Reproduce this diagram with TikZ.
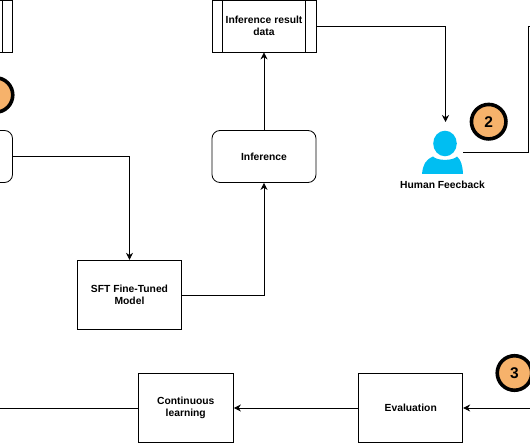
\documentclass[tikz,border=0pt]{standalone}
\usepackage{fontspec}
\setmainfont{Liberation Sans}
\usepackage{tikz}
\usetikzlibrary{arrows.meta,positioning}
\definecolor{badgeorange}{HTML}{F6B26B}
\definecolor{personblue}{HTML}{00BEF2}
\tikzset{
  box/.style      = {draw, line width=0.8pt, fill=white, align=center, font=\fontsize{10.3}{12.5}\selectfont\bfseries,
                     minimum width=104pt, minimum height=52pt, inner sep=0pt},
  roundbox/.style = {box, rounded corners=8pt},
  databox/.style  = {box, path picture={
                     \draw[line width=0.8pt] ([xshift=10.5pt]path picture bounding box.north west) -- ([xshift=10.5pt]path picture bounding box.south west);
                     \draw[line width=0.8pt] ([xshift=-10.5pt]path picture bounding box.north east) -- ([xshift=-10.5pt]path picture bounding box.south east);}},
  wire/.style     = {line width=0.8pt},
  vec/.style      = {wire, -{Stealth[length=7pt,width=7pt]}},
  badge/.style    = {circle, draw, line width=3.6pt, fill=badgeorange, minimum size=34.5pt, inner sep=0pt,
                     font=\fontsize{15.5}{15.5}\selectfont\bfseries},
  caption/.style  = {font=\fontsize{10.3}{12}\selectfont\bfseries},
}
\begin{document}
\begin{tikzpicture}[x=1pt,y=-1pt]
  \clip (0,0) rectangle (530,443);
  % top row
  \node[databox] (source) at (-39.5,26) {};
  \node[databox] (result) at (264,26) {Inference result\\data};
  % middle row
  \node[roundbox] (prepare) at (-39.5,156.5) {};
  \node[roundbox] (inference) at (264,156.5) {Inference};
  \node[box, minimum height=69.5pt] (sft) at (129.5,295) {SFT Fine-Tuned\\Model};
  % bottom row
  \node[box, minimum height=69.5pt] (evaluation) at (410.75,408) {Evaluation};
  \node[box, minimum width=95.5pt, minimum height=69.5pt] (continuous) at (185.75,408) {Continuous\\learning};
  % person
  \fill[personblue] (445,143.5) ellipse (11.8 and 12.8);
  \fill[personblue] (422,174) .. controls (423,165) and (425,160) .. (433,156.5)
    .. controls (437,161) and (453,161) .. (457,156.5)
    .. controls (461,160) and (462.5,165) .. (463,174) -- cycle;
  \node[caption] (humanlabel) at (442.5,185) {Human Feecback};
  \coordinate (humantop) at (445.5,122);
  \coordinate (humanout) at (463,152);
  % badges
  \node[badge] (badgeone) at (-4.5,95) {};
  \node[badge] (badgetwo) at (488.7,121.7) {2};
  \node[badge] (badgethree) at (514.5,373) {3};
  % free ends at the picture edge
  \coordinate (feedbackend) at (531,26);
  \coordinate (evalin) at (531,408);
  \coordinate (learnout) at (-1,408);
  % connectors
  \draw[vec] (prepare.east) -| (sft.north);
  \draw[vec] (sft.east) -| (inference.south);
  \draw[vec] (inference.north) -- (result.south);
  \draw[vec] (result.east) -| (humantop);
  \draw[wire] (humanout) -- (528,152) -- (528,26) -- (feedbackend);
  \draw[vec] (evalin) -- (evaluation.east);
  \draw[vec] (evaluation.west) -- (continuous.east);
  \draw[wire] (continuous.west) -- (learnout);
\end{tikzpicture}
\end{document}
